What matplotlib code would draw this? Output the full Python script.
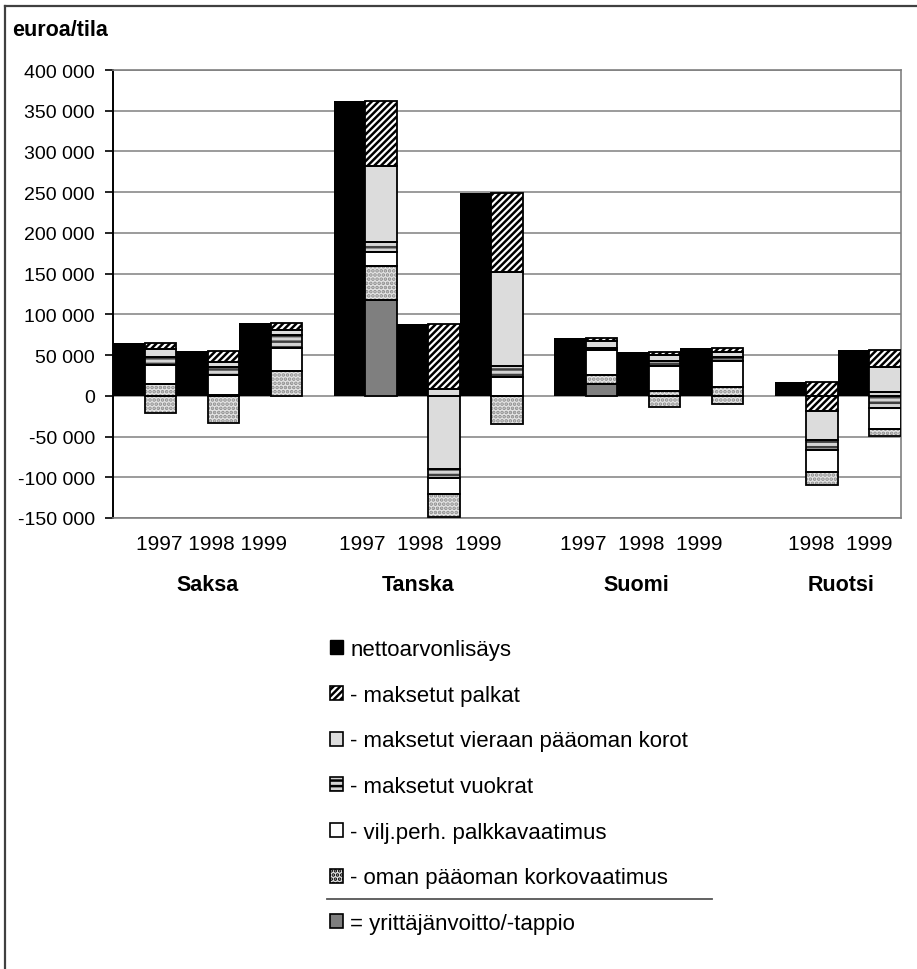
import matplotlib
matplotlib.use('Agg')
import matplotlib.pyplot as plt
from matplotlib.patches import Patch
from matplotlib.lines import Line2D
from matplotlib.ticker import FuncFormatter, MultipleLocator

plt.rcParams['font.family'] = ['Liberation Sans', 'DejaVu Sans']
plt.rcParams['hatch.linewidth'] = 1.8

# euroa/tila per farm, columns: Saksa 97-99, Tanska 97-99, Suomi 97-99, Ruotsi 98-99
countries = ['Saksa', 'Tanska', 'Suomi', 'Ruotsi']
years = [['1997', '1998', '1999'],
         ['1997', '1998', '1999'],
         ['1997', '1998', '1999'],
         ['1998', '1999']]

netto   = [65000, 55000, 90000, 362000, 88000, 249000, 71000, 54000, 59000, 17500, 56000]
palkat  = [8000, 13000, 9000, 80000, 80000, 97000, 3500, 4500, 5000, 36500, 21000]
korot   = [9000, 7000, 6000, 93000, 98000, 115000, 8500, 6500, 6000, 35000, 30000]
vuokrat = [10000, 10000, 16000, 12000, 11000, 14000, 3000, 6000, 5000, 12000, 20000]
vilj    = [23000, 24000, 28000, 18000, 19000, 23000, 30500, 30500, 32000, 27000, 26000]
oman    = [36000, 34000, 31000, 41000, 29000, 35000, 11500, 20500, 21000, 16000, 8000]
voitto  = [-21000, -33000, 0, 118000, -149000, -35000, 14000, -14000, -10000, -109000, -49000]

labels = ['nettoarvonlisäys', '- maksetut palkat', '- maksetut vieraan pääoman korot',
          '- maksetut vuokrat', '- vilj.perh. palkkavaatimus',
          '- oman pääoman korkovaatimus', '= yrittäjänvoitto/-tappio']

# fill, hatch, hatch colour for each deduction
ded_styles = [
    ('white', '/////', 'black'),
    ('#dcdcdc', None, 'black'),
    ('#d4d4d4', '---', '#404040'),
    ('white', None, 'black'),
    ('#e4e4e4', '....', '#8c8c8c'),
]
profit_color = '#7f7f7f'

W, H = 917, 970
fig = plt.figure(figsize=(W / 100, H / 100), dpi=100)
ax = fig.add_axes([113 / W, 1 - 519 / H, (901 - 113) / W, (519 - 71) / H])

group_start = [0, 7, 14, 21]
xpos = []
for g, yrs in enumerate(years):
    for j in range(len(yrs)):
        xpos.append(group_start[g] + 2 * j)


def split_at_zero(lo, hi):
    if lo < 0 < hi:
        return [(lo, 0), (0, hi)]
    return [(lo, hi)]


def seg(x, lo, hi, face, hatch, hcol):
    ax.bar(x, hi - lo, bottom=lo, width=1, align='edge', color=face,
           hatch=hatch, edgecolor=hcol, linewidth=0, zorder=2)
    ax.bar(x, hi - lo, bottom=lo, width=1, align='edge', fill=False,
           edgecolor='black', linewidth=1.3, zorder=3)


deductions = [palkat, korot, vuokrat, vilj, oman]
for i, x in enumerate(xpos):
    ax.bar(x, netto[i], width=1, align='edge', color='black', linewidth=0, zorder=2)
    top = netto[i]
    for vals, (face, hatch, hcol) in zip(deductions, ded_styles):
        lo = top - vals[i]
        for a, b in split_at_zero(lo, top):
            seg(x + 1, a, b, face, hatch, hcol)
        top = lo
    if voitto[i] > 0:
        seg(x + 1, 0, voitto[i], profit_color, None, 'black')

ax.set_xlim(0, 25)
ax.set_ylim(-150000, 400000)
ax.yaxis.set_major_locator(MultipleLocator(50000))
ax.yaxis.set_major_formatter(FuncFormatter(lambda v, _: f'{v:,.0f}'.replace(',', ' ')))
ax.set_xticks([])
ax.tick_params(axis='y', length=6, width=1.2, labelsize=14, pad=7, colors='black')
ax.yaxis.grid(True, color='#808080', linewidth=1.1)
ax.set_axisbelow(True)
for side in ['top', 'right', 'bottom']:
    ax.spines[side].set_color('#808080')
    ax.spines[side].set_linewidth(1.2)
ax.spines['left'].set_color('black')
ax.spines['left'].set_linewidth(1.4)

# year and country labels under the groups
year_text = ['1997 1998 1999', '1997  1998  1999', '1997  1998  1999', '1998  1999']
year_x = [3.11, 9.74, 16.75, 23.06]
country_x = [3.01, 9.68, 16.59, 23.10]
for g in range(len(countries)):
    ax.text(year_x[g], -187700, year_text[g], ha='center', va='baseline', fontsize=15)
    ax.text(country_x[g], -238000, countries[g], ha='center', va='baseline',
            fontsize=15.5, fontweight='bold')

fig.text(12 / W, 1 - 30 / H, 'euroa/tila', ha='left', va='center',
         fontsize=15.5, fontweight='bold')

# legend
handles = [Patch(facecolor='black', edgecolor='black')]
for face, hatch, hcol in ded_styles:
    handles.append(Patch(facecolor=face, hatch=hatch, edgecolor='black', linewidth=1.2))
handles.append(Patch(facecolor=profit_color, edgecolor='black', linewidth=1.2))
fig.legend(handles, labels, loc='upper left', bbox_to_anchor=(319 / W, 1 - 629 / H),
           frameon=False, fontsize=16, borderpad=0, handlelength=0.6,
           handleheight=0.6, handletextpad=0.3, labelspacing=1.11)
fig.add_artist(Line2D([327 / W, 712 / W], [1 - 900 / H, 1 - 900 / H],
                      color='#555555', linewidth=1.3))

# outer frame (top and left edges)
fig.add_artist(Line2D([5 / W, 1], [1 - 7 / H, 1 - 7 / H], color='#404040', linewidth=1.6))
fig.add_artist(Line2D([5 / W, 5 / W], [0, 1 - 7 / H], color='#404040', linewidth=1.6))

fig.savefig('out.png', dpi=100)
